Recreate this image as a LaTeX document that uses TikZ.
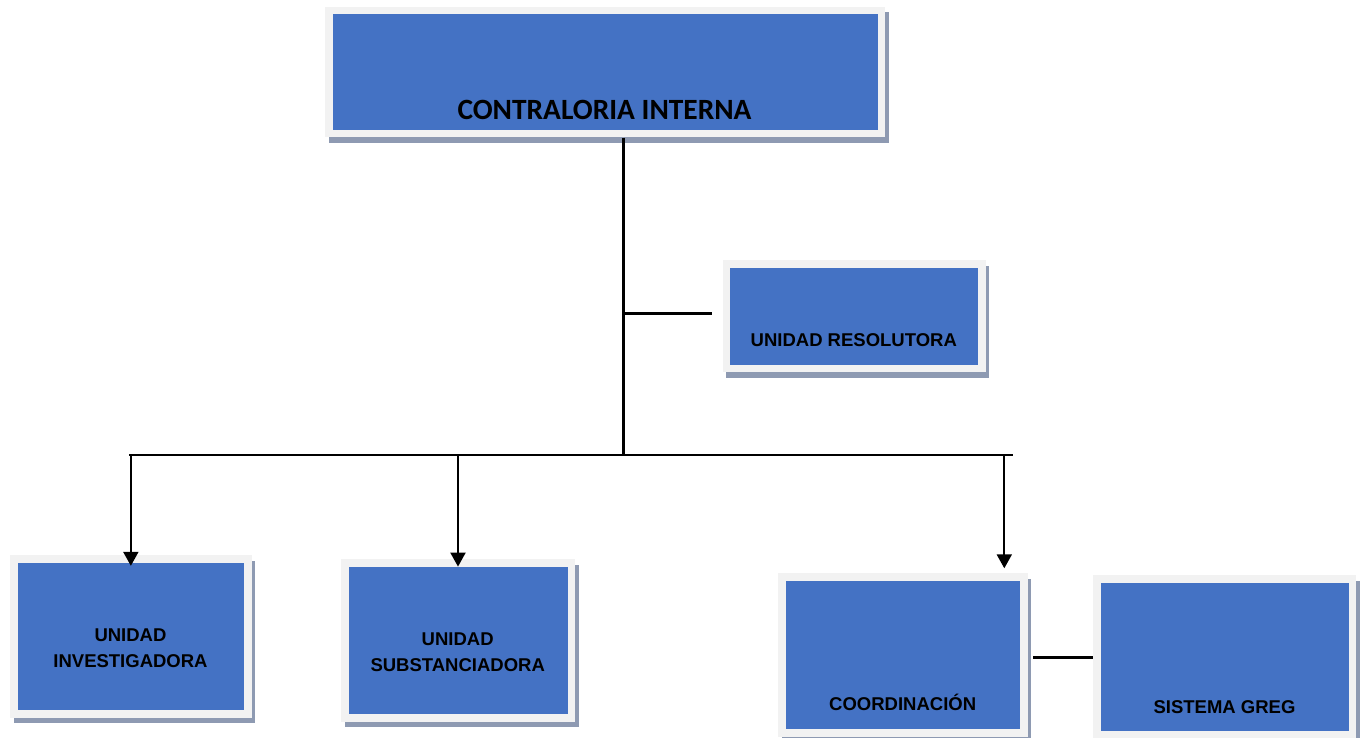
\documentclass[tikz,border=0pt]{standalone}
\usepackage{fontspec}
\setmainfont{Liberation Sans}
\newfontfamily\carlito{Carlito}
\usetikzlibrary{shadows,arrows.meta}
\definecolor{boxblue}{HTML}{4472C4}
\definecolor{framegray}{HTML}{F2F2F2}
\definecolor{shadowgray}{HTML}{8E9AB2}
\begin{document}
\begin{tikzpicture}[x=1pt,y=-1pt,
  orgframe/.style={rectangle, fill=framegray, inner sep=0pt, draw=none,
    drop shadow={shadow xshift=3.5pt, shadow yshift=-5.5pt, fill=shadowgray, opacity=1}},
  orgblue/.style={rectangle, fill=boxblue, inner sep=0pt, draw=none},
  lbl/.style={anchor=base, inner sep=0pt, align=center, font=\bfseries\fontsize{18.5}{25.5}\selectfont},
  toplbl/.style={anchor=base, inner sep=0pt, font=\carlito\bfseries\fontsize{29.4}{33}\selectfont},
  conn/.style={line width=3.3pt},
  bus/.style={line width=2.6pt},
  droparrow/.style={line width=2pt, -{Triangle[width=15pt,length=14pt]}},
]
\useasboundingbox (0,0) rectangle (1362,737);

% Boxes
\node[orgframe, minimum width=560pt, minimum height=130.6pt] (top) at (605,72) {};
\node[orgblue, minimum width=545pt, minimum height=115.6pt] (topb) at (top.center) {};
\node[toplbl] (toptxt) at (604.5,119) {CONTRALORIA INTERNA};

\node[orgframe, minimum width=263.3pt, minimum height=112pt] (res) at (854.3,316) {};
\node[orgblue, minimum width=248.3pt, minimum height=97pt] (resb) at (res.center) {};
\node[lbl] (restxt) at (853.8,346.7) {UNIDAD RESOLUTORA};

\node[orgframe, minimum width=241.7pt, minimum height=162.7pt] (inv) at (130.85,636.35) {};
\node[orgblue, minimum width=226.7pt, minimum height=147.7pt] (invb) at (inv.center) {};
\node[lbl] (invtxt) at (130.5,667.3) {UNIDAD\\INVESTIGADORA};

\node[orgframe, minimum width=234pt, minimum height=162.4pt] (sub) at (458,640.5) {};
\node[orgblue, minimum width=219pt, minimum height=147.4pt] (subb) at (sub.center) {};
\node[lbl] (subtxt) at (457.7,671) {UNIDAD\\SUBSTANCIADORA};

\node[orgframe, minimum width=249.4pt, minimum height=163.4pt] (coo) at (903,655) {};
\node[orgblue, minimum width=234.4pt, minimum height=148.4pt] (coob) at (coo.center) {};
\node[lbl] (cootxt) at (902.7,710.7) {COORDINACIÓN};

\node[orgframe, minimum width=262.7pt, minimum height=163pt] (sis) at (1224.65,656.5) {};
\node[orgblue, minimum width=247.7pt, minimum height=148pt] (sisb) at (sis.center) {};
\node[lbl] (sistxt) at (1224.5,713.3) {SISTEMA GREG};

% Connectors
\coordinate (busjoin) at (623.5,455);
\coordinate (resbranch) at (623.5,313.3);
\coordinate (resend) at (711.7,313.3);
\coordinate (busL) at (129,455);
\coordinate (busR) at (1013,455);
\coordinate (cootop) at (1004.3,455);
\coordinate (cootip) at (1004.3,568.3);
\coordinate (linkL) at (1033.3,657.3);

\draw[conn] (top.south -| busjoin) -- (busjoin);
\draw[conn] (resbranch) -- (resend);
\draw[bus] (busL) -- (busR);
\draw[droparrow] (inv.north |- busL) -- ([yshift=-3.5pt]invb.north);
\draw[droparrow] (sub.north |- busL) -- (subb.north);
\draw[droparrow] (cootop) -- (cootip);
\draw[conn] (linkL) -- (sis.west |- linkL);
\end{tikzpicture}
\end{document}
